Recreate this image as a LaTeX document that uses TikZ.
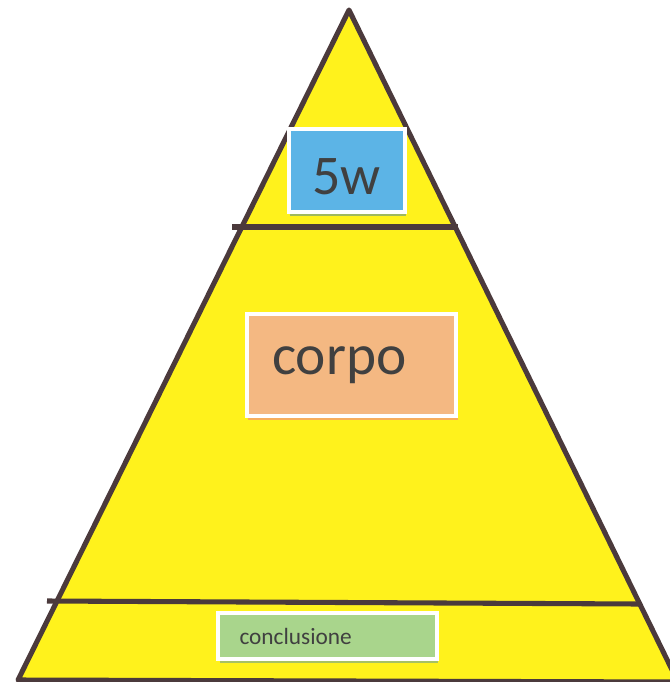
\documentclass[tikz,border=0pt]{standalone}
\usepackage{fontspec}
\setmainfont{Carlito}
\usetikzlibrary{positioning,shadows}
\definecolor{pyryellow}{HTML}{FFF21C}
\definecolor{pyrline}{HTML}{4B3A3C}
\definecolor{boxblue}{HTML}{5CB4E6}
\definecolor{boxorange}{HTML}{F4B882}
\definecolor{boxgreen}{HTML}{A9D58C}
\definecolor{textgray}{HTML}{404040}

\begin{document}
\begin{tikzpicture}[x=0.75pt, y=-0.75pt,
    box/.style={draw=white, line width=3pt, inner sep=0pt, text=textgray},
    edge/.style={draw=pyrline, line width=3.8pt, line join=round}]
        \useasboundingbox (0,0) rectangle (669,682);

        % pyramid
        \coordinate (apex) at (349,10);
        \coordinate (baseL) at (18,680);
        \coordinate (baseR) at (678,682);
        \fill[pyryellow] (apex) -- (baseL) -- (baseR) -- cycle;

        % dividers
        \coordinate (topL) at (232,227);
        \coordinate (topR) at (458,227);
        \coordinate (lowL) at (47,601);
        \coordinate (lowR) at (639,604);
        \draw[edge] (topL) -- (topR);
        \draw[edge] (lowL) -- (lowR);
        \draw[edge] (baseR) -- (apex) -- (baseL) -- (baseR);

        % boxes
        \node[box, fill=boxblue, minimum width=87pt, minimum height=62pt,
              drop shadow={shadow xshift=1pt, shadow yshift=-3pt, fill=boxgreen!80!black, opacity=0.8},
              font=\fontsize{42}{42}\selectfont] (fivew) at (346.5,170.5) {\raisebox{-18pt}[0pt][0pt]{5w}};
        \node[box, fill=boxorange, minimum height=77pt, inner xsep=19pt, text width=119pt, align=left,
              drop shadow={shadow xshift=1pt, shadow yshift=-3pt, fill=boxorange!85!red, opacity=0.8},
              font=\fontsize{43}{43}\selectfont] (corpo) at (351.5,365) {corpo};
        \node[box, fill=boxgreen, minimum height=35pt, inner xsep=16pt, text width=132pt, align=left,
              drop shadow={shadow xshift=1pt, shadow yshift=-3pt, fill=boxgreen!85!black, opacity=0.8},
              font=\fontsize{17.5}{17.5}\selectfont] (concl) at (327.5,636) {conclusione};
    \end{tikzpicture}
\end{document}
